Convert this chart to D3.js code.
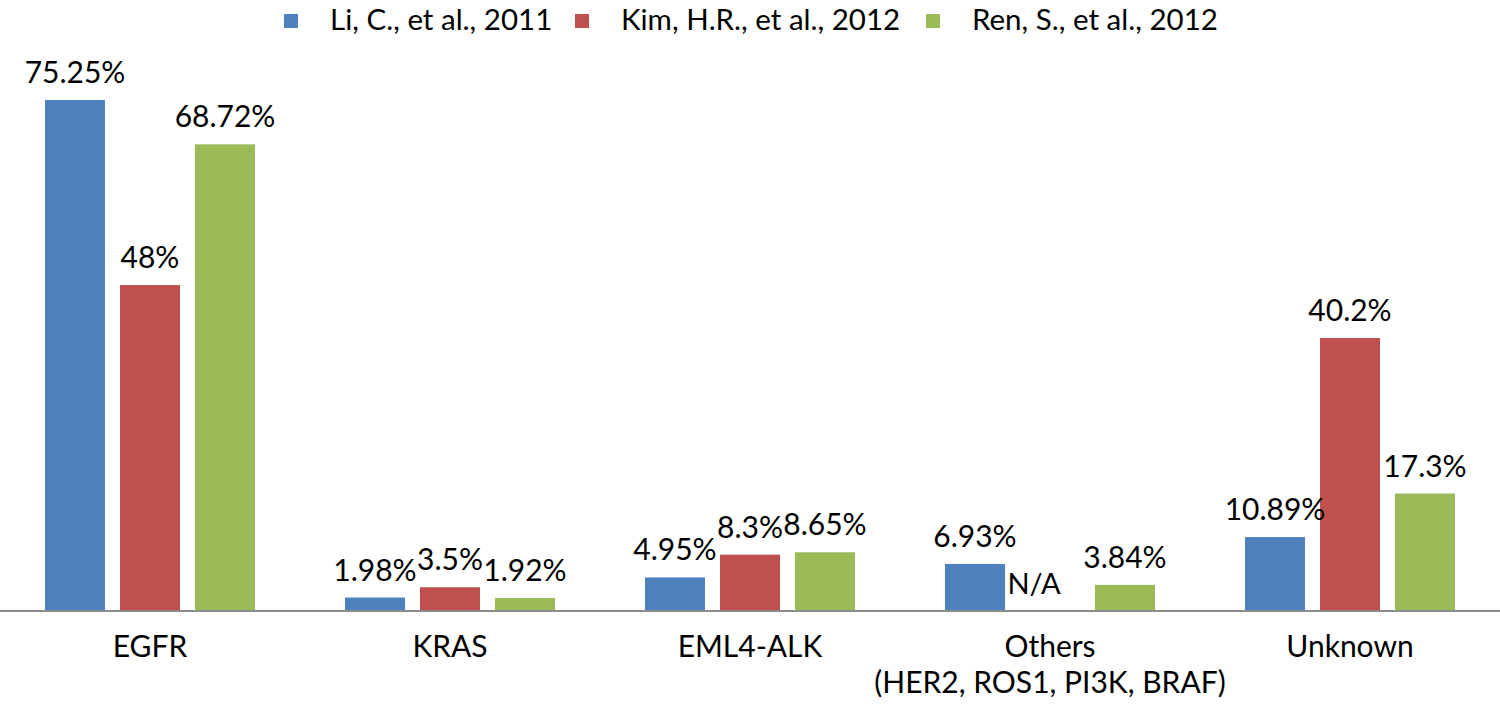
<!DOCTYPE html>
<html><head><meta charset="utf-8">
<script src="https://cdn.jsdelivr.net/npm/d3@7"></script>
<style>
html,body{margin:0;padding:0;background:#fff;}
svg{display:block;}
text{font-family:Lato,"Open Sans",sans-serif;fill:#000;}
</style></head>
<body>
<svg id="chart" width="1500" height="705"></svg>
<script>
const categories = ["EGFR", "KRAS", "EML4-ALK", "Others", "Unknown"];
const categorySubLabels = ["", "", "", "(HER2, ROS1, PI3K, BRAF)", ""];
const seriesNames = ["Li, C., et al., 2011", "Kim, H.R., et al., 2012", "Ren, S., et al., 2012"];
const seriesColors = ["#4F81BD", "#C0504D", "#9BBB59"];
const liValues = [75.25, 1.98, 4.95, 6.93, 10.89];
const kimValues = [48, 3.5, 8.3, null, 40.2];
const renValues = [68.72, 1.92, 8.65, 3.84, 17.3];
const liLabels = ["75.25%", "1.98%", "4.95%", "6.93%", "10.89%"];
const kimLabels = ["48%", "3.5%", "8.3%", "N/A", "40.2%"];
const renLabels = ["68.72%", "1.92%", "8.65%", "3.84%", "17.3%"];

const seriesValues = [liValues, kimValues, renValues];
const seriesLabels = [liLabels, kimLabels, renLabels];

const svg = d3.select("#chart");
const W = 1500, baseY = 611;
const FS = 30;

const x0 = d3.scaleBand().domain(categories).range([0, W]).paddingInner(0).paddingOuter(0);
const x1 = d3.scaleBand().domain(d3.range(3)).range([45, 255]).paddingInner(0.2).paddingOuter(0);
const y = d3.scaleLinear().domain([0, 80]).range([baseY, baseY - 80 * (511 / 75.25)]);

const data = [];
categories.forEach((c, i) => {
  seriesValues.forEach((vals, s) => {
    data.push({cat: c, s, v: vals[i], label: seriesLabels[s][i]});
  });
});

const g = svg.append("g");
g.selectAll("rect.bar").data(data.filter(d => d.v != null)).enter().append("rect")
  .attr("class", "bar")
  .attr("x", d => x0(d.cat) + x1(d.s))
  .attr("width", x1.bandwidth())
  .attr("y", d => y(d.v))
  .attr("height", d => y(0) - y(d.v))
  .attr("fill", d => seriesColors[d.s]);

g.selectAll("text.lbl").data(data).enter().append("text")
  .attr("class", "lbl")
  .attr("x", d => x0(d.cat) + x1(d.s) + x1.bandwidth() / 2 - (d.v == null ? 16 : 0))
  .attr("y", d => y(d.v == null ? 0 : d.v) - 17)
  .attr("text-anchor", "middle")
  .attr("font-size", d => d.v == null ? FS - 1 : FS)
  .text(d => d.label);

// axis
const axis = d3.axisBottom(x0).tickSize(0).tickPadding(0).tickFormat(() => "");
const ax = svg.append("g").attr("transform", `translate(0,${baseY})`).call(axis);
ax.select(".domain").attr("stroke", "#8c8c8c").attr("stroke-width", 2).attr("d", `M0,0H${W}`);
ax.selectAll(".tick").each(function(c, i) {
  const t = d3.select(this);
  t.append("text").attr("y", 46).attr("text-anchor", "middle").attr("font-size", FS).attr("fill", "#000").text(c);
  if (categorySubLabels[i]) {
    t.append("text").attr("y", 82).attr("text-anchor", "middle").attr("font-size", FS).attr("fill", "#000").text(categorySubLabels[i]);
  }
});

// legend
const legendX = [284, 575, 926];
const lg = svg.append("g");
seriesNames.forEach((n, s) => {
  lg.append("rect").attr("x", legendX[s]).attr("y", 14).attr("width", 14).attr("height", 14).attr("fill", seriesColors[s]);
  lg.append("text").attr("x", legendX[s] + 46).attr("y", 30).attr("font-size", 29.5).text(n);
});
</script>
</body></html>
